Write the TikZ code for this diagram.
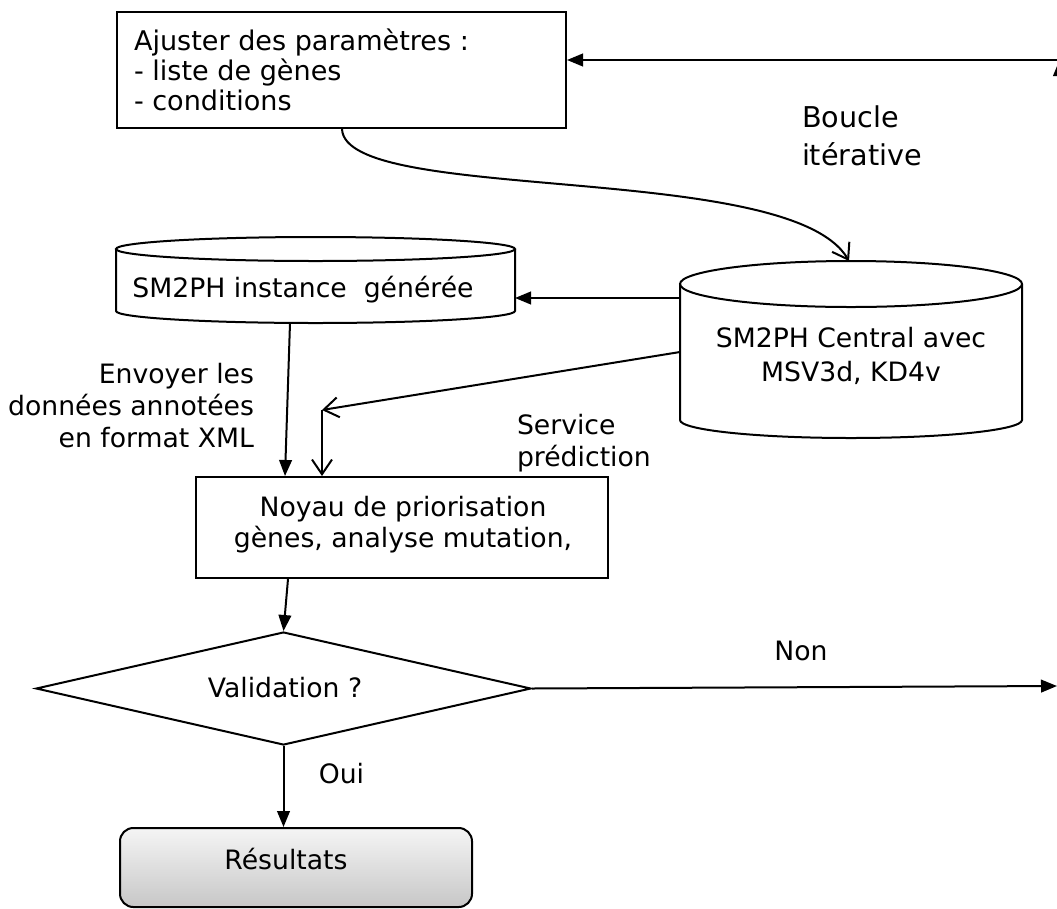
\documentclass[tikz,border=0pt]{standalone}
\usepackage{fontspec}
\setmainfont{DejaVu Sans}
\usetikzlibrary{arrows.meta,shapes.geometric,calc}
\newcommand\drum[6]{%
  \pgfmathsetmacro\dcx{(#1+#2)/2}%
  \pgfmathsetmacro\drx{(#2-#1)/2}%
  \draw[fill=white] (\dcx,#3) ellipse [x radius=\drx*0.75pt, y radius=#5*0.75pt];
  \draw (#1,#3) -- (#1,#4) .. controls (#1,#4+0.5523*#6) and (\dcx-0.5523*\drx,#4+#6) .. (\dcx,#4+#6)
        .. controls (\dcx+0.5523*\drx,#4+#6) and (#2,#4+0.5523*#6) .. (#2,#4) -- (#2,#3);
}
\begin{document}
\begin{tikzpicture}[x=0.75pt,y=-0.75pt,
  line width=1.5pt,
  font=\fontsize{20}{24}\selectfont,
  box/.style={draw, rectangle, inner sep=0pt},
  hold/.style={rectangle, inner sep=0pt, outer sep=0pt},
  txt/.style={inner sep=0pt, outer sep=0pt},
  fillarrow/.style={-{Triangle[length=12pt,width=9.5pt]}},
  openarrow/.style={-{Straight Barb[length=11pt,width=15pt,line width=1.5pt]}},
]
\useasboundingbox (0,0) rectangle (1057,908);
\clip (0,0) rectangle (1057,908);

% top box
\node[box, minimum width=336.75pt, minimum height=87pt] (adj) at (341.5,70) {};
\node[txt, anchor=north west, align=left, font=\fontsize{20.3}{22.75}\selectfont] (adjT) at (134,28.5)
  {Ajuster des paramètres :\\- liste de gènes\\- conditions};

% cylinders
\drum{116}{515}{249}{311}{12}{12}
\node[hold, minimum width=299.25pt, minimum height=64.5pt] (cylA) at (315.5,280) {};
\node[txt, anchor=base] (cylAT) at (303,297) {SM2PH instance\ \ générée};

\drum{680}{1022}{284}{420}{23}{18}
\node[hold, minimum width=256.5pt, minimum height=132.75pt] (cylB) at (851,349.5) {};
\node[txt, anchor=north, align=center, font=\fontsize{20}{25}\selectfont] (cylBT) at (851,327.7) {SM2PH Central avec\\MSV3d, KD4v};

% kernel box
\node[box, minimum width=309pt, minimum height=75.75pt] (kern) at (402,527.5) {};
\node[txt, anchor=north, align=center, font=\fontsize{20}{23.25}\selectfont] (kernT) at (403,496)
  {Noyau de priorisation\\gènes, analyse mutation,};

% decision
\node[diamond, draw, minimum width=371.25pt, minimum height=84.75pt, inner sep=0pt] (val) at (283.5,688.5) {};
\node[txt, anchor=base] (valT) at (285,697) {Validation ?};

% result
\node[draw, rounded corners=10pt, top color=black!4, bottom color=black!22,
      minimum width=264pt, minimum height=59.25pt, inner sep=0pt] (res) at (296,867.5) {};
\node[txt, anchor=base] (resT) at (286,869) {Résultats};

% labels
\node[txt, anchor=north west, align=left, font=\fontsize{21.5}{28.5}\selectfont] (lbBoucle) at (802,106) {Boucle\\itérative};
\node[txt, anchor=north east, align=right] (lbEnv) at (254,363.7) {Envoyer les\\données annotées\\en format XML};
\node[txt, anchor=north west, align=left, font=\fontsize{20}{23.5}\selectfont] (lbSvc) at (517,414.7) {Service\\prédiction};
\node[txt, anchor=base] (lbNon) at (801,660) {Non};
\node[txt, anchor=base] (lbOui) at (341.5,783) {Oui};

% connectors
\coordinate (loopB) at (1059.5,686);
\coordinate (loopT) at (1059.5,60);
\coordinate (nonEnd) at (1057,686);
\coordinate (bend) at (322,410);

\draw[openarrow] ($(adj.south west)+(226,0)$) .. controls (345,205) and (790,160) .. ($(cylB.north)+(-2,0)$);
\draw[fillarrow] ($(cylB.west)+(0,-51.5)$) -- ($(cylA.east)+(0,18)$);
\draw[openarrow] ($(cylB.west)+(0,2.5)$) -- (bend);
\draw[openarrow] (bend) -- (bend |- kern.north);
\draw[fillarrow] ($(cylA.south west)+(174,0)$) -- ($(kern.north west)+(90,0)$);
\draw[fillarrow] ($(kern.south west)+(93,0)$) -- (val.north);
\draw[fillarrow] (val.east) -- (nonEnd);
\draw[fillarrow] (val.south) -- (val.south |- res.north);
\draw[fillarrow] (loopB) -- (loopT);
\draw[fillarrow] (loopT) -- (loopT -| adj.east);
\end{tikzpicture}
\end{document}
